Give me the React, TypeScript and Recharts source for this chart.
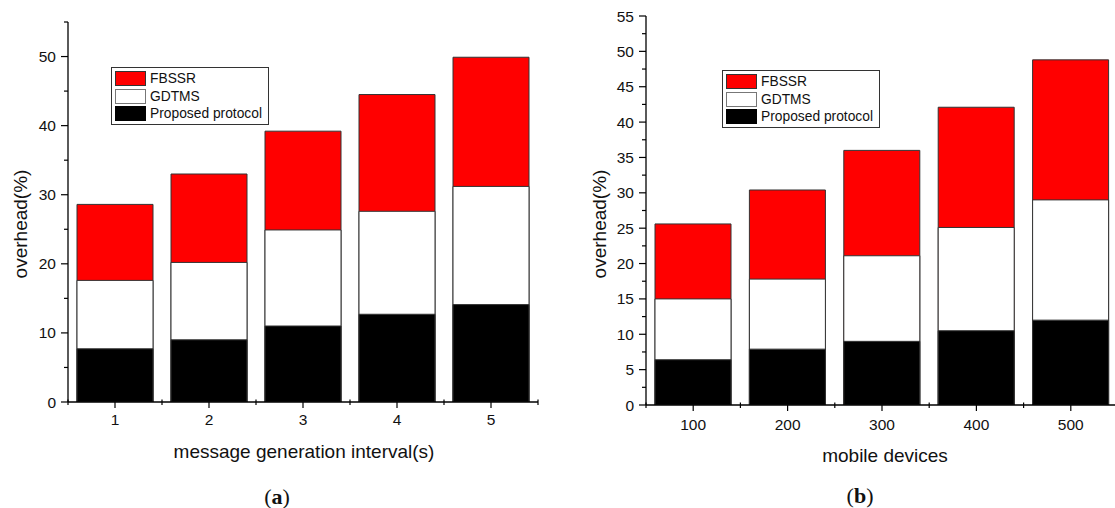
import React from "react";
import { BarChart, Bar, XAxis, YAxis } from "recharts";

const intervals = ["1", "2", "3", "4", "5"];
const devices = ["100", "200", "300", "400", "500"];

// panel (a): overhead vs message generation interval
const fbssrA = [28.6, 33.0, 39.2, 44.5, 49.9];
const gdtmsA = [17.6, 20.2, 24.9, 27.6, 31.2];
const proposedA = [7.7, 9.0, 11.0, 12.7, 14.1];

// panel (b): overhead vs mobile devices
const fbssrB = [25.6, 30.4, 36.0, 42.1, 48.8];
const gdtmsB = [15.0, 17.8, 21.1, 25.1, 29.0];
const proposedB = [6.4, 7.9, 9.0, 10.5, 12.0];

const yTicksA = [0, 5, 10, 15, 20, 25, 30, 35, 40, 45, 50, 55];
const yLabelStepA = 10;
const yTicksB = [0, 2.5, 5, 7.5, 10, 12.5, 15, 17.5, 20, 22.5, 25, 27.5, 30, 32.5, 35, 37.5, 40, 42.5, 45, 47.5, 50, 52.5, 55];
const yLabelStepB = 5;

const SANS = "'Liberation Sans', Arial, sans-serif";
const SERIF = "'Liberation Serif', 'Times New Roman', serif";
const AXIS = "#000";
const EDGE = "#333";

function buildRows(cats: string[], f: number[], g: number[], p: number[]) {
  return cats.map((c, i) => ({ cat: c, fbssr: f[i], gdtms: g[i], proposed: p[i] }));
}

function makeYTick(step: number) {
  return function YTick(props: any) {
    const { x, y, payload } = props;
    const major = payload.value % step === 0;
    return (
      <g>
        <line x1={x} x2={x - (major ? 7 : 4)} y1={y} y2={y} stroke={AXIS} strokeWidth={1.2} />
        {major && (
          <text x={x - 12} y={y} textAnchor="end" dominantBaseline="central" fontSize={15.5} fontFamily={SANS} fill="#111">
            {payload.value}
          </text>
        )}
      </g>
    );
  };
}

function makeXTick(labelDy: number) {
  return function XTick(props: any) {
    const { x, y, payload, index, width, visibleTicksCount } = props;
    const band = width && visibleTicksCount ? width / visibleTicksCount : 0;
    return (
      <g>
        <line x1={x} x2={x} y1={y} y2={y + 6} stroke={AXIS} strokeWidth={1.2} />
        {band > 0 && (
          <line x1={x - band / 2} x2={x - band / 2} y1={y - 2.5} y2={y + 3} stroke={AXIS} strokeWidth={1.2} />
        )}
        {band > 0 && index === visibleTicksCount - 1 && (
          <line x1={x + band / 2} x2={x + band / 2} y1={y - 2.5} y2={y + 3} stroke={AXIS} strokeWidth={1.2} />
        )}
        <text x={x} y={y + labelDy} textAnchor="middle" dominantBaseline="central" fontSize={15.5} fontFamily={SANS} fill="#111">
          {payload.value}
        </text>
      </g>
    );
  };
}

function LegendBox({ left, top }: { left: number; top: number }) {
  const items = [
    { name: "FBSSR", fill: "#ff0000", border: "#333" },
    { name: "GDTMS", fill: "#ffffff", border: "#777" },
    { name: "Proposed protocol", fill: "#000000", border: "#000" },
  ];
  return (
    <div
      style={{
        position: "absolute", left, top, width: 158, padding: "2px 0 1px 3px",
        border: "1px solid #333", background: "#fff", boxSizing: "border-box",
      }}
    >
      {items.map((it) => (
        <div key={it.name} style={{ display: "flex", alignItems: "center", height: 17.5 }}>
          <div style={{ width: 31, height: 15, background: it.fill, border: `1px solid ${it.border}`, boxSizing: "border-box" }} />
          <span style={{ marginLeft: 4, fontFamily: SANS, fontSize: 13.8, color: "#111", whiteSpace: "nowrap" }}>{it.name}</span>
        </div>
      ))}
    </div>
  );
}

function Txt({ cx, cy, size, rotate, children, family }: any) {
  return (
    <div
      style={{
        position: "absolute", left: cx, top: cy, transform: `translate(-50%, -50%)${rotate ? " rotate(-90deg)" : ""}`,
        fontFamily: family || SANS, fontSize: size, lineHeight: 1, whiteSpace: "nowrap", color: "#111",
      }}
    >
      {children}
    </div>
  );
}

interface PanelProps {
  left: number;
  rows: ReturnType<typeof buildRows>;
  margin: { top: number; right: number; bottom: number; left: number };
  yTicks: number[];
  yStep: number;
  labelDy: number;
}

function Panel({ left, rows, margin, yTicks, yStep, labelDy }: PanelProps) {
  return (
    <div style={{ position: "absolute", left, top: 0 }}>
      <BarChart width={560} height={508} data={rows} margin={margin} barGap={-76} barCategoryGap={0}>
        <XAxis
          dataKey="cat" height={30} interval={0} stroke={AXIS} strokeWidth={1.3}
          tickLine={false} tickSize={0} tickMargin={0} tick={makeXTick(labelDy)}
        />
        <YAxis
          width={60} domain={[0, 55]} ticks={yTicks} interval={0} allowDataOverflow
          stroke={AXIS} strokeWidth={1.3} tickLine={false} tickSize={0} tickMargin={0} tick={makeYTick(yStep)}
        />
        <Bar dataKey="fbssr" barSize={76} fill="#ff0000" stroke={EDGE} strokeWidth={1} isAnimationActive={false} />
        <Bar dataKey="gdtms" barSize={76} fill="#ffffff" stroke={EDGE} strokeWidth={1} isAnimationActive={false} />
        <Bar dataKey="proposed" barSize={76} fill="#000000" stroke={EDGE} strokeWidth={1} isAnimationActive={false} />
      </BarChart>
    </div>
  );
}

export default function App() {
  const rowsA = buildRows(intervals, fbssrA, gdtmsA, proposedA);
  const rowsB = buildRows(devices, fbssrB, gdtmsB, proposedB);
  return (
    <div style={{ position: "absolute", left: 0, top: 0, width: 1115, height: 508, overflow: "hidden", background: "#fff" }}>
      <Panel left={0} rows={rowsA} margin={{ top: 22, right: 22, bottom: 76, left: 8 }} yTicks={yTicksA} yStep={yLabelStepA} labelDy={17} />
      <Panel left={560} rows={rowsB} margin={{ top: 16, right: 2, bottom: 73, left: 26 }} yTicks={yTicksB} yStep={yLabelStepB} labelDy={19} />

      <LegendBox left={111} top={67} />
      <LegendBox left={722} top={70} />

      <Txt cx={304} cy={451} size={19}>message generation interval(s)</Txt>
      <Txt cx={20} cy={224} size={19} rotate>overhead(%)</Txt>
      <Txt cx={885} cy={455} size={19}>mobile devices</Txt>
      <Txt cx={599} cy={224} size={19} rotate>overhead(%)</Txt>

      <Txt cx={277} cy={497} size={22} family={SERIF}>(<b>a</b>)</Txt>
      <Txt cx={860} cy={496} size={22} family={SERIF}>(<b>b</b>)</Txt>
    </div>
  );
}
